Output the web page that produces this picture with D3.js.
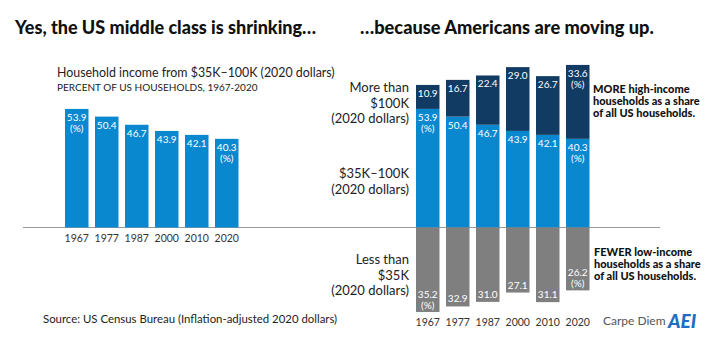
<!DOCTYPE html>
<html>
<head>
<meta charset="utf-8">
<script src="https://cdn.jsdelivr.net/npm/d3@7"></script>
<style>
  body { margin: 0; background: #fff; }
  svg text { font-family: Lato, "Open Sans", sans-serif; }
</style>
</head>
<body>
<div id="chart"></div>
<script>
// data
const years = ["1967", "1977", "1987", "2000", "2010", "2020"];
const middle = [53.9, 50.4, 46.7, 43.9, 42.1, 40.3];   // $35K-100K
const upper = [10.9, 16.7, 22.4, 29.0, 26.7, 33.6];    // more than $100K
const lower = [35.2, 32.9, 31.0, 27.1, 31.1, 26.2];    // less than $35K

const W = 720, H = 361;
const base = 227.5;

const svg = d3.select("#chart")
    .append("svg")
    .attr("width", W)
    .attr("height", H);

// colours
const navy = "#123b63", blue = "#0a88cf", grey = "#7f7f7f";

// scales
const yUp = d3.scaleLinear().domain([0, 100]).range([base, base - 220]);
const yDown = d3.scaleLinear().domain([0, 40]).range([base, base + 96]);

const xLeft = d3.scaleBand().domain(years).range([65, 238.5]).paddingInner(0.217).paddingOuter(0);
const xRight = d3.scaleBand().domain(years).range([416, 589.5]).paddingInner(0.217).paddingOuter(0);

// titles
svg.append("text").attr("x", 15).attr("y", 34)
    .style("font-size", "18px").style("font-weight", 900).attr("fill", "#111")
    .text("Yes, the US middle class is shrinking…");
svg.append("text").attr("x", 360).attr("y", 34)
    .style("font-size", "18.2px").style("font-weight", 900).attr("fill", "#111")
    .text("…because Americans are moving up.");

svg.append("text").attr("x", 57).attr("y", 77)
    .style("font-size", "12.4px").attr("fill", "#222")
    .text("Household income from $35K–100K (2020 dollars)");
svg.append("text").attr("x", 57).attr("y", 91)
    .style("font-size", "10px").attr("fill", "#222")
    .text("PERCENT OF US HOUSEHOLDS, 1967-2020");

// baseline
svg.append("line")
    .attr("x1", 23).attr("x2", 660)
    .attr("y1", base).attr("y2", base)
    .attr("stroke", "#9a9a9a").attr("stroke-width", 1);

// ---- left chart
const gl = svg.append("g");
gl.selectAll("rect")
  .data(years)
  .join("rect")
    .attr("x", d => xLeft(d))
    .attr("width", xLeft.bandwidth())
    .attr("y", (d, i) => yUp(middle[i]))
    .attr("height", (d, i) => base - yUp(middle[i]))
    .attr("fill", blue);

function valueLabel(g, x, y, txt, pct) {
    g.append("text")
        .attr("x", x).attr("y", y)
        .attr("text-anchor", "middle")
        .style("font-size", "10px")
        .attr("fill", "#fff")
        .text(txt);
    if (pct) {
        g.append("text")
            .attr("x", x).attr("y", y + 11)
            .attr("text-anchor", "middle")
            .style("font-size", "10px")
            .attr("fill", "#fff")
            .text("(%)");
    }
}

years.forEach((yr, i) => {
    const cx = xLeft(yr) + xLeft.bandwidth() / 2;
    valueLabel(gl, cx, yUp(middle[i]) + 12, middle[i].toFixed(1), i === 0 || i === years.length - 1);
});

gl.selectAll(".yr")
  .data(years)
  .join("text")
    .attr("class", "yr")
    .attr("x", d => xLeft(d) + xLeft.bandwidth() / 2)
    .attr("y", 242)
    .attr("text-anchor", "middle")
    .style("font-size", "10.5px")
    .attr("fill", "#333")
    .text(d => d);

// ---- right chart
const gr = svg.append("g");

// middle segment
gr.selectAll(".mid")
  .data(years)
  .join("rect")
    .attr("class", "mid")
    .attr("x", d => xRight(d))
    .attr("width", xRight.bandwidth())
    .attr("y", (d, i) => yUp(middle[i]))
    .attr("height", (d, i) => base - yUp(middle[i]))
    .attr("fill", blue);

// upper segment
gr.selectAll(".up")
  .data(years)
  .join("rect")
    .attr("class", "up")
    .attr("x", d => xRight(d))
    .attr("width", xRight.bandwidth())
    .attr("y", (d, i) => yUp(middle[i] + upper[i]))
    .attr("height", (d, i) => yUp(middle[i]) - yUp(middle[i] + upper[i]))
    .attr("fill", navy);

// lower segment, drawn below the line
gr.selectAll(".low")
  .data(years)
  .join("rect")
    .attr("class", "low")
    .attr("x", d => xRight(d))
    .attr("width", xRight.bandwidth())
    .attr("y", base)
    .attr("height", (d, i) => yDown(lower[i]) - base)
    .attr("fill", grey);

years.forEach((yr, i) => {
    const cx = xRight(yr) + xRight.bandwidth() / 2;
    const pct = i === 0 || i === years.length - 1;
    valueLabel(gr, cx, yUp(middle[i] + upper[i]) + 12, upper[i].toFixed(1), i === years.length - 1);
    valueLabel(gr, cx, yUp(middle[i]) + 12, middle[i].toFixed(1), pct);
    const bottom = yDown(lower[i]);
    valueLabel(gr, cx, pct ? bottom - 14 : bottom - 4, lower[i].toFixed(1), pct);
});

gr.selectAll(".yr")
  .data(years)
  .join("text")
    .attr("class", "yr")
    .attr("x", d => xRight(d) + xRight.bandwidth() / 2)
    .attr("y", 326)
    .attr("text-anchor", "middle")
    .style("font-size", "10.5px")
    .attr("fill", "#333")
    .text(d => d);

// category labels on the left of the stack
function lines(x, y0, step, arr, opts) {
    const t = svg.append("text")
        .attr("x", x).attr("y", y0)
        .attr("text-anchor", opts.anchor)
        .style("font-size", opts.size)
        .style("font-weight", opts.weight || 400)
        .attr("fill", opts.fill || "#222");
    arr.forEach((s, i) => t.append("tspan").attr("x", x).attr("dy", i ? step : 0).text(s));
}
const catOpts = { anchor: "end", size: "13px" };
lines(409, 92, 15.5, ["More than", "$100K", "(2020 dollars)"], catOpts);
lines(409, 178, 15.5, ["$35K–100K", "(2020 dollars)"], catOpts);
lines(409, 264, 15.5, ["Less than", "$35K", "(2020 dollars)"], catOpts);

const noteOpts = { anchor: "start", size: "11px", weight: 900, fill: "#111" };
lines(593, 93, 12, ["MORE high-income", "households as a share", "of all US households."], noteOpts);
lines(594, 256, 12, ["FEWER low-income", "households as a share", "of all US households."], noteOpts);

// footer
svg.append("text").attr("x", 43).attr("y", 323)
    .style("font-size", "11.4px").attr("fill", "#222")
    .text("Source: US Census Bureau (Inflation-adjusted 2020 dollars)");
svg.append("text").attr("x", 603).attr("y", 325)
    .style("font-size", "12px").attr("fill", "#555")
    .text("Carpe Diem");
svg.append("text").attr("x", 668).attr("y", 328)
    .style("font-size", "19px").style("font-weight", 900).style("font-style", "italic")
    .attr("fill", "#1c6fc0")
    .text("AEI");
</script>
</body>
</html>
